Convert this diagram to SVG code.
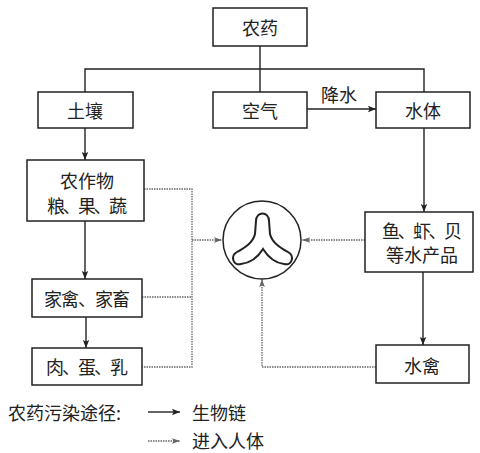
<svg xmlns="http://www.w3.org/2000/svg" width="480" height="453" viewBox="0 0 480 453">
<defs>
<style>
.box{fill:#fff;stroke:#222;stroke-width:1.5}
.t{font-family:"Noto Sans CJK SC","Liberation Sans",sans-serif;font-size:18px;fill:#222;text-anchor:middle;dominant-baseline:central}
.lg{font-family:"Noto Sans CJK SC","Liberation Sans",sans-serif;font-size:18px;fill:#222;dominant-baseline:central}
.s{fill:none;stroke:#222;stroke-width:1.4}
.d{fill:none;stroke:#666;stroke-width:1.3;stroke-dasharray:1.5 1}
</style>
<marker id="a" viewBox="0 0 10 10" refX="10" refY="5" markerWidth="8" markerHeight="8" markerUnits="userSpaceOnUse" orient="auto"><path d="M0,1 L10,5 L0,9 L2,5 Z" fill="#222"/></marker>
<marker id="ad" viewBox="0 0 10 10" refX="10" refY="5" markerWidth="8" markerHeight="8" markerUnits="userSpaceOnUse" orient="auto"><path d="M0,1.5 L10,5 L0,8.5 L2,5 Z" fill="#666"/></marker>
</defs>
<rect width="480" height="453" fill="#fff"/>
<g id="connectors">
<path class="s" d="M260,46 V92 M85,92 V69 H424 V92"/>
<path class="s" d="M307,109 H376" marker-end="url(#a)"/>
<path class="s" d="M85,128 V160" marker-end="url(#a)"/>
<path class="s" d="M85,221 V279" marker-end="url(#a)"/>
<path class="s" d="M86,317 V348" marker-end="url(#a)"/>
<path class="s" d="M424,128 V212" marker-end="url(#a)"/>
<path class="s" d="M423,272 V345" marker-end="url(#a)"/>
<path class="d" d="M144,189 H192 V367 H142 M142,297 H192"/>
<path class="d" d="M192,240 H222" marker-end="url(#ad)"/>
<path class="d" d="M365,240 H302" marker-end="url(#ad)"/>
<path class="d" d="M376,367 H262 V279" marker-end="url(#ad)"/>
<text class="t" x="339" y="94">降水</text>
</g>
<g id="nongyao"><rect class="box" x="213" y="8" width="94" height="38"/><text class="t" x="260" y="27">农药</text></g>
<g id="turang"><rect class="box" x="38" y="92" width="95" height="36"/><text class="t" x="85" y="110">土壤</text></g>
<g id="kongqi"><rect class="box" x="213" y="92" width="94" height="36"/><text class="t" x="260" y="110">空气</text></g>
<g id="shuiti"><rect class="box" x="376" y="92" width="94" height="36"/><text class="t" x="423" y="110">水体</text></g>
<g id="nongzuowu"><rect class="box" x="27" y="160" width="117" height="61"/><text class="t" x="87" y="180">农作物</text><text class="t" x="87" y="205" textLength="80" lengthAdjust="spacing">粮、果、蔬</text></g>
<g id="jiaqin"><rect class="box" x="32" y="279" width="110" height="38"/><text class="t" x="87" y="298" textLength="86" lengthAdjust="spacing">家禽、家畜</text></g>
<g id="roudanru"><rect class="box" x="32" y="348" width="110" height="37"/><text class="t" x="87" y="366" textLength="82" lengthAdjust="spacing">肉、蛋、乳</text></g>
<g id="yuxiabei"><rect class="box" x="365" y="212" width="108" height="60"/><text class="t" x="422" y="230" textLength="80" lengthAdjust="spacing">鱼、虾、贝</text><text class="t" x="422" y="254">等水产品</text></g>
<g id="shuiqin"><rect class="box" x="376" y="345" width="93" height="38"/><text class="t" x="422" y="365">水禽</text></g>
<g id="ren">
<circle cx="262" cy="240" r="39" fill="#fff" stroke="#222" stroke-width="1.5"/>
<path d="M256,221 C256,211 269,211 269,221 L270,234 C272,243 281,248 288,252 C295,256 292,266 284,264 C276,263 268,257 263,249 C258,257 250,263 241,264 C233,266 230,256 237,252 C244,248 253,243 255,234 Z" fill="none" stroke="#222" stroke-width="2"/>
</g>
<g id="legend">
<text class="lg" x="8" y="412">农药污染途径:</text>
<path class="s" d="M148,412 H180" marker-end="url(#a)"/>
<text class="lg" x="192" y="412">生物链</text>
<path class="d" d="M148,441 H180" marker-end="url(#ad)"/>
<text class="lg" x="192" y="440">进入人体</text>
</g>
</svg>
